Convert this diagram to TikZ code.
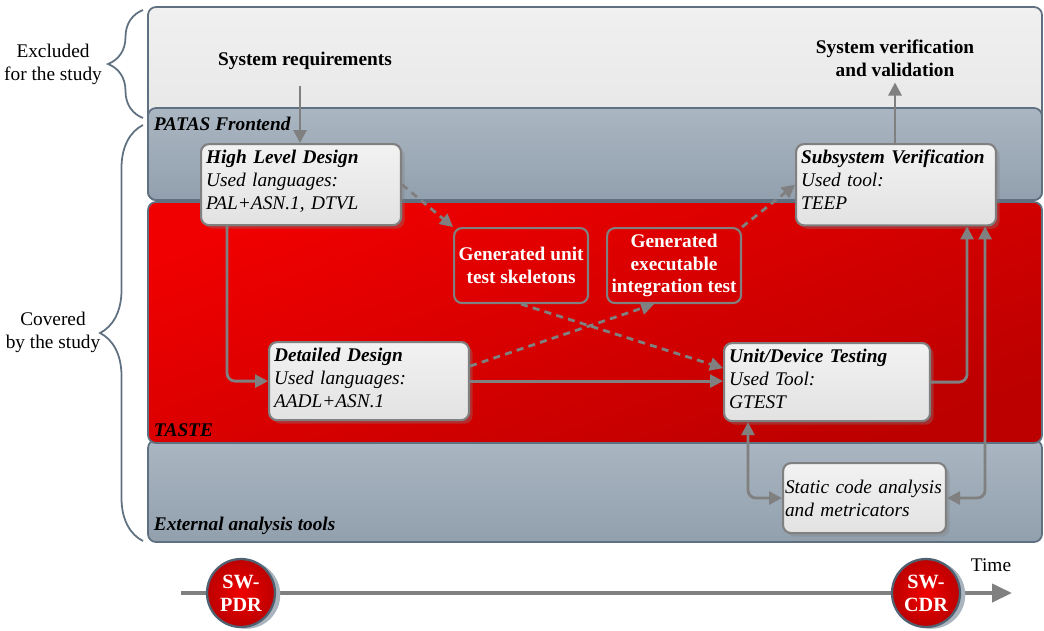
\documentclass[tikz,border=0pt]{standalone}
\usepackage{fontspec}
\setmainfont{Liberation Serif}
\usetikzlibrary{arrows.meta,shadows,decorations.pathreplacing}

\definecolor{bandline}{RGB}{95,112,128}
\definecolor{lightA}{RGB}{240,240,240}
\definecolor{lightB}{RGB}{226,226,226}
\definecolor{blueA}{RGB}{170,182,194}
\definecolor{blueB}{RGB}{146,160,173}
\definecolor{redA}{RGB}{240,0,0}
\definecolor{redB}{RGB}{188,0,0}
\definecolor{boxA}{RGB}{242,242,242}
\definecolor{boxB}{RGB}{226,226,226}
\definecolor{linegray}{RGB}{128,128,128}
\definecolor{msline}{RGB}{80,98,114}
\definecolor{msshadow}{RGB}{170,180,190}

\newcommand{\padline}[1]{\rule[-#1]{0pt}{#1}}

\begin{document}
\begin{tikzpicture}[x=0.02cm,y=-0.02cm,
    >={Triangle[length=0.26cm,width=0.26cm]},
    every node/.style={font=\fontsize{11}{13}\selectfont},
    band/.style={draw=bandline,line width=1pt,rounded corners=0.16cm},
    bandlabel/.style={anchor=west,inner sep=2pt,font=\fontsize{11}{13}\selectfont\bfseries\itshape},
    taskbox/.style={draw=linegray,line width=1.2pt,rounded corners=0.16cm,
        top color=boxA,bottom color=boxB,
        drop shadow={shadow xshift=2pt,shadow yshift=-2pt,opacity=0.35},
        anchor=north west,align=left,inner xsep=0.1cm,inner ysep=0.12cm,
        font=\fontsize{11}{13}\selectfont\itshape},
    genbox/.style={draw=linegray,line width=1.2pt,rounded corners=0.16cm,
        anchor=north west,align=center,text=white,inner sep=0pt,
        minimum width=2.68cm,minimum height=1.5cm,
        font=\fontsize{11}{13}\selectfont\bfseries},
    conn/.style={draw=linegray,line width=1.6pt,->},
    genconn/.style={conn,dash pattern=on 4pt off 3pt},
    biconn/.style={draw=linegray,line width=1.6pt,<->},
    milestone/.style={circle,draw=msline,line width=1.3pt,inner sep=0pt,
        minimum size=1.36cm,inner color=redA,outer color=redB,text=white,align=center,
        font=\fontsize{11.5}{13}\selectfont\bfseries,
        drop shadow={shadow xshift=3pt,shadow yshift=-1pt,fill=msshadow,opacity=1}},
    studybrace/.style={draw=bandline,line width=1pt,decorate,decoration={brace,amplitude=#1}}
]
\useasboundingbox (0,0) rectangle (1044,630);

% bands
\draw[band,top color=lightA,bottom color=lightB] (148,7) rectangle (1042,200);
\draw[band,top color=blueA,bottom color=blueB] (148,108) rectangle (1042,200);
\draw[band,top color=blueA,bottom color=blueB] (148,440) rectangle (1042,542);
\draw[band,top color=redA,bottom color=redB,shading angle=20] (148,202) rectangle (1042,443);

\node[bandlabel] (patas) at (150,124) {PATAS Frontend};
\node[bandlabel] (taste) at (150,430) {TASTE};
\node[bandlabel] (extern) at (150,526) {External analysis tools};

% braces
\draw[studybrace=0.7cm] (143,118) -- (143,10);
\draw[studybrace=0.86cm] (143,541) -- (143,125);
\node[align=center] (excl) at (53,64) {Excluded\\for the study};
\node[align=center] (cov) at (53,332) {Covered\\by the study};

% nodes
\node[font=\fontsize{11}{13}\selectfont\bfseries] (sysreq) at (305,61) {System requirements};
\node[align=center,font=\fontsize{11}{13}\selectfont\bfseries] (sysver) at (895,58) {System verification\\and validation};

\node[taskbox,text width=3.8cm] (hld) at (200,143) {\textbf{High Level Design}\\Used languages:\\PAL+ASN.1, DTVL\padline{0.2cm}};
\node[taskbox,text width=3.8cm] (sver) at (795,143) {\textbf{Subsystem Verification}\\Used tool:\\TEEP\padline{0.2cm}};
\node[taskbox,text width=3.8cm] (dd) at (268,341) {\textbf{Detailed Design}\\Used languages:\\AADL+ASN.1\padline{0.14cm}};
\node[taskbox,text width=3.92cm] (udt) at (723,342) {\textbf{Unit/Device Testing}\\Used Tool:\\GTEST\padline{0.14cm}};
\node[taskbox,text width=3.18cm,inner xsep=0.04cm,minimum height=1.4cm] (sca) at (782,462) {Static code analysis\\and metricators};

\node[genbox] (gut) at (453,227) {Generated unit\\test skeletons};
\node[genbox] (git) at (606,227) {Generated\\executable\\integration test};

% connectors
\draw[conn,shorten <=0.2cm] ([xshift=-0.1cm]sysreq.south) -- ([xshift=-0.1cm]sysreq.south |- hld.north);
\draw[conn] (sver.north -| sysver.south) -- (sysver.south);
\draw[conn,rounded corners=0.16cm] ([xshift=0.54cm]hld.south west) |- (dd.west);
\draw[conn] (dd.east) -- (dd.east -| udt.west);
\draw[genconn] (hld.east) -- (gut.north west);
\draw[genconn] ([yshift=0.3cm]dd.east) -- ([xshift=-0.4cm]git.south);
\draw[genconn] (gut.south) -- ([yshift=0.28cm]udt.west);
\draw[genconn] (git.north east) -- (sver.west);
\draw[conn,rounded corners=0.16cm] (udt.east) -| ([xshift=-0.6cm]sver.south east);
\draw[biconn,rounded corners=0.16cm] ([xshift=0.5cm]udt.south west) |- (sca.west);
\draw[biconn,rounded corners=0.16cm] ([xshift=-0.24cm]sver.south east) |- (sca.east);

% time line
\coordinate (t0) at (181,593);
\coordinate (t1) at (1012,593);
\draw[draw=linegray,line width=2.3pt,-{Triangle[length=0.4cm,width=0.36cm]}] (t0) -- (t1);
\node[milestone] (pdr) at (241,593) {SW-\\PDR};
\node[milestone] (cdr) at (926,593) {SW-\\CDR};
\node (time) at (991,565) {Time};

\end{tikzpicture}
\end{document}
